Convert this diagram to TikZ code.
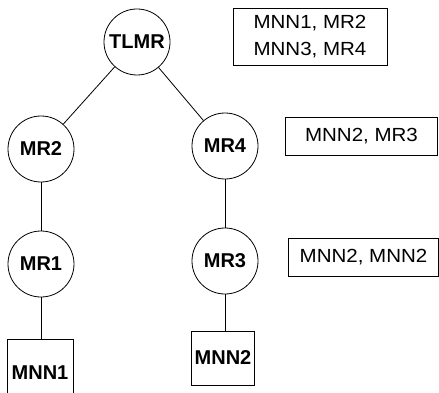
\documentclass[tikz,border=0pt]{standalone}
\usepackage{fontspec}
\setmainfont{Liberation Sans}
\newfontfamily\wideface[FakeStretch=1.08]{Liberation Sans}
\begin{document}
\begin{tikzpicture}[x=1pt,y=-1pt, line width=0.8pt,
  router/.style={draw, circle, minimum size=66pt, inner sep=0pt,
                 font=\fontsize{20}{22}\selectfont\bfseries},
  leafbox/.style={draw, rectangle, inner sep=0pt,
                  font=\fontsize{20}{22}\selectfont\bfseries},
  tablebox/.style={draw, rectangle, inner sep=0pt, align=center,
                   font=\wideface\fontsize{19}{27}\selectfont}]
  \useasboundingbox (0,0) rectangle (439,393);
  \clip (0,0) rectangle (439,393);

  % routers
  \node[router] (tlmr) at (137,42) {TLMR};
  \node[router] (mr2) at (41,149) {MR2};
  \node[router] (mr4) at (225,146) {MR4};
  \node[router] (mr1) at (41,264) {MR1};
  \node[router] (mr3) at (225,261) {MR3};

  % leaf nodes (MNN1 runs past the lower edge)
  \node[leafbox, minimum width=66pt, minimum height=68pt] (mnn1) at (40,373) {};
  \node[font=\fontsize{20}{22}\selectfont\bfseries] (mnn1txt) at (40,373) {MNN1};
  \node[leafbox, minimum width=63pt, minimum height=54pt] (mnn2) at (223,358) {MNN2};

  % routing tables
  \node[tablebox, minimum width=154pt, minimum height=57pt] (tab1) at (310,36.5)
       {MNN1, MR2\\MNN3, MR4};
  \node[tablebox, minimum width=152pt, minimum height=38pt] (tab2) at (361.5,136)
       {MNN2, MR3};
  \node[tablebox, minimum width=150pt, minimum height=38pt] (tab3) at (363.5,257.5)
       {MNN2, MNN2};

  % links
  \draw (tlmr) -- (mr2);
  \draw (tlmr) -- (mr4);
  \draw (mr2) -- (mr1);
  \draw (mr4) -- (mr3);
  \draw (mr1.south) -- (mr1.south |- mnn1.north);
  \draw (mr3.south) -- (mr3.south |- mnn2.north);
\end{tikzpicture}
\end{document}
